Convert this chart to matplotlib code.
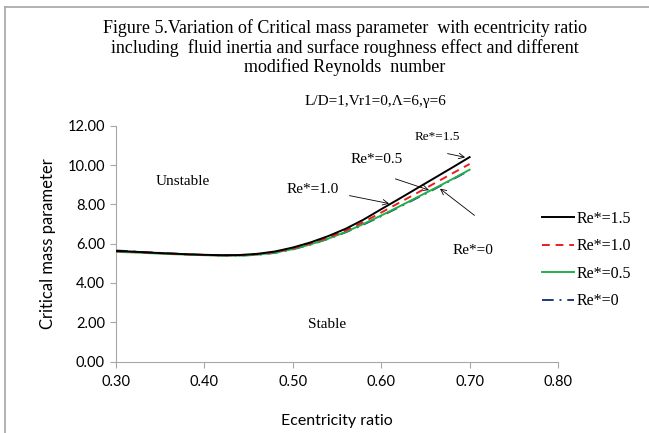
import matplotlib
matplotlib.use('Agg')
from matplotlib import pyplot as plt
from matplotlib.lines import Line2D

# eccentricity ratio
ecc = [0.30, 0.32, 0.34, 0.36, 0.38, 0.40, 0.42, 0.44, 0.46, 0.48, 0.50,
       0.52, 0.54, 0.56, 0.58, 0.60, 0.62, 0.64, 0.66, 0.68, 0.70]

# critical mass parameter for each modified Reynolds number
re_15 = [5.63, 5.59, 5.54, 5.50, 5.46, 5.43, 5.41, 5.42, 5.48, 5.60, 5.80,
         6.06, 6.38, 6.76, 7.22, 7.75, 8.27, 8.80, 9.33, 9.86, 10.40]
re_10 = [5.61, 5.57, 5.53, 5.49, 5.45, 5.42, 5.40, 5.41, 5.46, 5.57, 5.76,
         6.01, 6.31, 6.67, 7.10, 7.58, 8.07, 8.56, 9.06, 9.56, 10.05]
re_05 = [5.58, 5.55, 5.51, 5.47, 5.44, 5.41, 5.39, 5.39, 5.44, 5.54, 5.72,
         5.96, 6.25, 6.60, 7.00, 7.43, 7.88, 8.34, 8.80, 9.27, 9.76]
re_00 = [5.65, 5.60, 5.55, 5.50, 5.46, 5.42, 5.40, 5.39, 5.43, 5.53, 5.71,
         5.95, 6.24, 6.58, 6.97, 7.40, 7.85, 8.31, 8.77, 9.25, 9.73]

x_ticks = [0.30, 0.40, 0.50, 0.60, 0.70, 0.80]
y_ticks = [0, 2, 4, 6, 8, 10, 12]

serif = 'Liberation Serif'
sans = 'Lato'

fig = plt.figure(figsize=(6.49, 4.33), dpi=100)
ax = fig.add_axes([0.1787, 0.1651, 0.6811, 0.5446])

ax.plot(ecc, re_00, color='#1f3a7a', lw=1.4, ls=(0, (6, 3, 1, 3)), zorder=2)
ax.plot(ecc, re_05, color='#22b04b', lw=1.4, zorder=3)
ax.plot(ecc, re_10, color='#ee1c1c', lw=1.4, ls=(0, (4, 3)), zorder=4)
ax.plot(ecc, re_15, color='black', lw=1.4, zorder=5)

ax.set_xlim(0.30, 0.80)
ax.set_ylim(0, 12)
ax.set_xticks(x_ticks)
ax.set_yticks(y_ticks)
ax.set_xticklabels([f'{v:.2f}' for v in x_ticks], fontfamily=sans, fontsize=10.5)
ax.set_yticklabels([f'{v:.2f}' for v in y_ticks], fontfamily=sans, fontsize=10.5)
for s in ['top', 'right']:
    ax.spines[s].set_visible(False)
for s in ['left', 'bottom']:
    ax.spines[s].set_color('#a6a6a6')
ax.tick_params(color='#a6a6a6', length=4)
ax.tick_params(axis='x', pad=6)
ax.tick_params(axis='y', pad=4)

ax.set_xlabel('Ecentricity ratio', fontfamily=sans, fontsize=11.5, labelpad=18)
ax.set_ylabel('Critical mass parameter', fontfamily=sans, fontsize=12, labelpad=8)

# region labels
ax.text(0.376, 9.18, 'Unstable', fontfamily=serif, fontsize=11, ha='center', va='center')
ax.text(0.539, 1.86, 'Stable', fontfamily=serif, fontsize=11, ha='center', va='center')

# curve annotations
arrow = dict(arrowstyle='->', color='black', lw=0.6)
ax.text(0.664, 11.42, 'Re*=1.5', fontfamily=serif, fontsize=9.5, ha='center', va='center')
ax.annotate('', xy=(0.698, 10.36), xytext=(0.672, 10.61), arrowprops=arrow)
ax.text(0.595, 10.3, 'Re*=0.5', fontfamily=serif, fontsize=11, ha='center', va='center')
ax.annotate('', xy=(0.657, 8.68), xytext=(0.613, 9.34), arrowprops=arrow)
ax.text(0.522, 8.75, 'Re*=1.0', fontfamily=serif, fontsize=11, ha='center', va='center')
ax.annotate('', xy=(0.612, 8.01), xytext=(0.561, 8.47), arrowprops=arrow)
ax.text(0.704, 5.67, 'Re*=0', fontfamily=serif, fontsize=11, ha='center', va='center')
ax.annotate('', xy=(0.664, 8.88), xytext=(0.708, 7.35), arrowprops=arrow)

# legend
handles = [
    Line2D([], [], color='black', lw=1.4),
    Line2D([], [], color='#ee1c1c', lw=1.4, ls=(0, (4, 3))),
    Line2D([], [], color='#22b04b', lw=1.4),
    Line2D([], [], color='#1f3a7a', lw=1.4, ls=(0, (6, 3, 1, 3))),
]
labels = ['Re*=1.5', 'Re*=1.0', 'Re*=0.5', 'Re*=0']
fig.legend(handles, labels, loc='upper left', bbox_to_anchor=(0.826, 0.528),
           frameon=False, prop={'family': serif, 'size': 11.5},
           handlelength=2.0, handletextpad=0.15, labelspacing=0.72, borderaxespad=0)

# titles
fig.text(0.531, 0.955, 'Figure 5.Variation of Critical mass parameter  with ecentricity ratio\n'
         'including  fluid inertia and surface roughness effect and different\n'
         'modified Reynolds  number', fontfamily=serif, fontsize=13,
         ha='center', va='top', linespacing=1.12)
fig.text(0.579, 0.766, 'L/D=1,Vr1=0,\u039b=6,\u03b3=6', fontfamily=serif, fontsize=11,
         ha='center', va='center')

# outer frame (top and left edges)
fig.add_artist(Line2D([0.007, 1.0], [0.984, 0.984], color='#a6a6a6', lw=1.2,
                      transform=fig.transFigure))
fig.add_artist(Line2D([0.007, 0.007], [0.0, 0.984], color='#a6a6a6', lw=1.2,
                      transform=fig.transFigure))

fig.savefig('out.png', dpi=100)
